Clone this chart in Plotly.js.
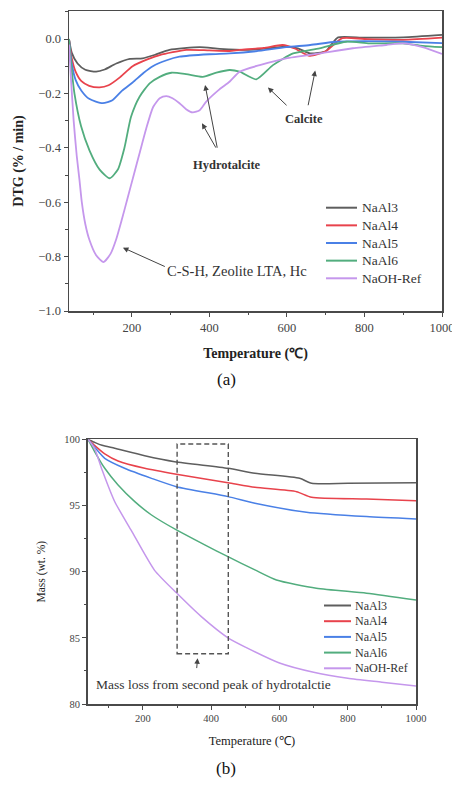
<!DOCTYPE html>
<html>
<head>
<meta charset="utf-8">
<script src="https://cdn.plot.ly/plotly-3.0.1.min.js"></script>
<style>
html,body{margin:0;padding:0;background:#fff;}
#chart{width:452px;height:796px;}
</style>
</head>
<body>
<div id="chart"></div>
<script>
// ---------- data ----------
const seriesNames = ["NaAl3", "NaAl4", "NaAl5", "NaAl6", "NaOH-Ref"];
const seriesColors = ["#5e5e5e", "#e8434c", "#4a80e6", "#52ad7e", "#c597ec"];

// (a) DTG (% / min) vs Temperature (°C)
const dtgX_NaAl3 = [38, 45, 60, 80, 108, 130, 160, 195, 228, 260, 297, 375, 427, 500, 560, 600, 630, 660, 700, 715, 732, 800, 900, 1000];
const dtgY_NaAl3 = [0, -0.05, -0.09, -0.113, -0.12, -0.112, -0.09, -0.073, -0.071, -0.058, -0.04, -0.03, -0.036, -0.04, -0.033, -0.028, -0.035, -0.053, -0.045, -0.02, 0.006, 0.005, 0.006, 0.015];
const dtgX_NaAl4 = [38, 45, 55, 70, 90, 117, 140, 170, 202, 240, 272, 341, 400, 452, 478, 540, 589, 620, 659, 700, 743, 800, 900, 1000];
const dtgY_NaAl4 = [0, -0.07, -0.12, -0.155, -0.172, -0.178, -0.17, -0.14, -0.10, -0.075, -0.059, -0.04, -0.042, -0.044, -0.04, -0.033, -0.022, -0.035, -0.062, -0.045, 0.003, 0.0, -0.003, 0.005];
const dtgX_NaAl5 = [38, 45, 55, 70, 90, 125, 150, 175, 202, 230, 254, 290, 323, 400, 452, 520, 598, 660, 727, 800, 899, 1000];
const dtgY_NaAl5 = [0, -0.09, -0.15, -0.19, -0.22, -0.236, -0.225, -0.19, -0.16, -0.125, -0.10, -0.078, -0.065, -0.056, -0.053, -0.045, -0.03, -0.022, -0.01, -0.008, -0.01, -0.015];
const dtgX_NaAl6 = [38, 44, 52, 69, 91, 117, 143, 164, 181, 198, 220, 246, 272, 302, 340, 383, 418, 452, 478, 521, 564, 616, 684, 753, 813, 899, 950, 1000];
const dtgY_NaAl6 = [0, -0.10, -0.20, -0.32, -0.41, -0.48, -0.512, -0.48, -0.40, -0.286, -0.212, -0.163, -0.139, -0.124, -0.129, -0.139, -0.124, -0.114, -0.12, -0.148, -0.096, -0.053, -0.034, -0.01, -0.016, -0.016, -0.025, -0.03];
const dtgX_NaOH = [38, 42, 50, 58, 65, 71, 80, 91, 108, 127, 145, 160, 175, 190, 205, 220, 237, 255, 272, 289, 305, 323, 340, 357, 375, 392, 426, 452, 478, 530, 598, 684, 770, 856, 899, 950, 1000];
const dtgY_NaOH = [-0.02, -0.12, -0.30, -0.43, -0.518, -0.60, -0.68, -0.74, -0.795, -0.82, -0.79, -0.735, -0.66, -0.58, -0.50, -0.42, -0.33, -0.25, -0.218, -0.21, -0.218, -0.236, -0.258, -0.27, -0.262, -0.23, -0.185, -0.157, -0.12, -0.096, -0.071, -0.053, -0.034, -0.022, -0.016, -0.03, -0.055];

// (b) Mass (wt. %) vs Temperature (°C)
const massX_NaAl3 = [39, 60, 80, 117, 205, 293, 449, 528, 659, 694, 800, 1000];
const massY_NaAl3 = [100, 99.75, 99.55, 99.32, 98.76, 98.31, 97.81, 97.43, 97.05, 96.68, 96.68, 96.72];
const massX_NaAl4 = [39, 60, 88, 127, 205, 298, 449, 528, 650, 694, 855, 1000];
const massY_NaAl4 = [100, 99.5, 98.9, 98.36, 97.81, 97.36, 96.72, 96.37, 96.04, 95.62, 95.49, 95.36];
const massX_NaAl5 = [39, 60, 88, 146, 225, 298, 449, 528, 679, 855, 1000];
const massY_NaAl5 = [100, 99.35, 98.56, 97.81, 97.05, 96.42, 95.67, 95.17, 94.49, 94.16, 93.98];
const massX_NaAl6 = [39, 60, 88, 127, 176, 225, 298, 381, 449, 528, 591, 708, 855, 1000];
const massY_NaAl6 = [100, 99.0, 97.81, 96.55, 95.29, 94.28, 93.15, 92.02, 91.13, 90.13, 89.37, 88.75, 88.37, 87.86];
const massX_NaOH = [39, 58, 80, 117, 166, 234, 298, 371, 449, 500, 600, 700, 800, 900, 1000];
const massY_NaOH = [100, 99.32, 97.7, 95.3, 93.1, 90.1, 88.4, 86.6, 85.0, 84.3, 83.1, 82.4, 81.95, 81.65, 81.35];

const dtgXs = [dtgX_NaAl3, dtgX_NaAl4, dtgX_NaAl5, dtgX_NaAl6, dtgX_NaOH];
const dtgYs = [dtgY_NaAl3, dtgY_NaAl4, dtgY_NaAl5, dtgY_NaAl6, dtgY_NaOH];
const massXs = [massX_NaAl3, massX_NaAl4, massX_NaAl5, massX_NaAl6, massX_NaOH];
const massYs = [massY_NaAl3, massY_NaAl4, massY_NaAl5, massY_NaAl6, massY_NaOH];

// ---------- layout helpers ----------
const W = 452, H = 796;
const px = v => v / W;          // pixel -> paper x
const py = v => 1 - v / H;      // pixel (from top) -> paper y
const FONT = "Liberation Serif";
const AX = "#4a4a4a";

const traces = [];
seriesNames.forEach((n, i) => {
  traces.push({x: dtgXs[i], y: dtgYs[i], xaxis: "x", yaxis: "y", mode: "lines", name: n,
    line: {color: seriesColors[i], width: 1.8, shape: "spline", smoothing: 0.6}, showlegend: false});
});
seriesNames.forEach((n, i) => {
  traces.push({x: massXs[i], y: massYs[i], xaxis: "x2", yaxis: "y2", mode: "lines", name: n,
    line: {color: seriesColors[i], width: 1.5, shape: "spline", smoothing: 0.6}, showlegend: false});
});

function axisBase(extra) {
  return Object.assign({
    showline: true, linecolor: AX, linewidth: 1.5, mirror: true,
    showgrid: false, zeroline: false,
    ticks: "outside", ticklen: 4, tickwidth: 1, tickcolor: AX,
    ticklabeloverflow: "allow",
    tickfont: {family: FONT, size: 12.5, color: "#444"}
  }, extra);
}

const shapes = [];
const annotations = [];

// custom legends
function legend(x0, x1, xt, y0, dy, fs) {
  seriesNames.forEach((n, i) => {
    const yy = y0 + i * dy;
    shapes.push({type: "line", xref: "paper", yref: "paper", x0: px(x0), x1: px(x1), y0: py(yy), y1: py(yy),
      line: {color: seriesColors[i], width: 2}});
    annotations.push({xref: "paper", yref: "paper", x: px(xt), y: py(yy), xanchor: "left", yanchor: "middle",
      text: n, showarrow: false, font: {family: FONT, size: fs, color: "#333"}});
  });
}
legend(326, 357, 360, 207.7, 17.65, 13.5);
legend(324, 351, 353, 605.5, 15.7, 12);

// arrows + labels
function arrow(xr, yr, hx, hy, tx, ty) {
  annotations.push({xref: xr, yref: yr, axref: xr, ayref: yr, x: hx, y: hy, ax: tx, ay: ty, text: "",
    showarrow: true, arrowhead: 2, arrowsize: 1.1, arrowwidth: 1, arrowcolor: "#444"});
}
function label(xr, yr, x, y, t, fs) {
  annotations.push({xref: xr, yref: yr, x: x, y: y, text: t, showarrow: false,
    font: {family: FONT, size: fs, color: "#333"}});
}
arrow("x", "y", 551, -0.178, 603, -0.249);
arrow("x", "y", 673, -0.116, 654, -0.249);
label("x", "y", 644, -0.294, "<b>Calcite</b>", 12.5);
arrow("x", "y", 389, -0.169, 421, -0.405);
arrow("x", "y", 381, -0.31, 419, -0.405);
label("x", "y", 446, -0.463, "<b>Hydrotalcite</b>", 12.5);
arrow("x", "y", 177, -0.767, 289, -0.839);
label("x", "y", 472, -0.852, "C-S-H, Zeolite LTA, Hc", 14.5);

// (b) box + arrow + label
shapes.push({type: "rect", xref: "x2", yref: "y2", x0: 300, x1: 450, y0: 83.8, y1: 99.65,
  line: {color: "#555", width: 1.4, dash: "5px,3px"}});
arrow("x2", "y2", 360, 83.45, 357, 82.6);
label("x2", "y2", 406, 81.45, "Mass loss from second peak of hydrotalctie", 13.5);

// panel captions
annotations.push({xref: "paper", yref: "paper", x: px(226), y: py(380), text: "(a)", showarrow: false,
  font: {family: FONT, size: 17, color: "#111"}});
annotations.push({xref: "paper", yref: "paper", x: px(226), y: py(780), text: "(b)", showarrow: false,
  font: {family: FONT, size: 17, color: "#111"}});

const layout = {
  width: W, height: H,
  margin: {l: 0, r: 0, t: 0, b: 0},
  paper_bgcolor: "#fff", plot_bgcolor: "#fff",
  showlegend: false,
  font: {family: FONT},
  xaxis: axisBase({domain: [px(69), px(442)], range: [38, 1000], dtick: 200, tick0: 0,
    minor: {dtick: 100, ticks: "outside", ticklen: 2.5, tickcolor: AX},
    anchor: "y",
    title: {text: "<b>Temperature (℃)</b>", font: {family: FONT, size: 14, color: "#222"}, standoff: 14}}),
  yaxis: axisBase({domain: [py(311), py(11)], range: [-1.0, 0.103], dtick: 0.2, tick0: 0, tickformat: ".1f",
    minor: {dtick: 0.1, ticks: "outside", ticklen: 2.5, tickcolor: AX},
    anchor: "x",
    title: {text: "<b>DTG (% / min)</b>", font: {family: FONT, size: 14, color: "#222"}, standoff: 11}}),
  xaxis2: axisBase({domain: [px(87.7), px(416)], range: [38, 1000], dtick: 200, tick0: 0,
    minor: {dtick: 100, ticks: "outside", ticklen: 2.5, tickcolor: AX},
    anchor: "y2", tickfont: {family: FONT, size: 10.5, color: "#444"},
    title: {text: "Temperature (℃)", font: {family: FONT, size: 12.5, color: "#222"}, standoff: 13}}),
  yaxis2: axisBase({domain: [py(704), py(439.3)], range: [80, 100], dtick: 5, tick0: 0,
    minor: {dtick: 2.5, ticks: "outside", ticklen: 2.5, tickcolor: AX},
    anchor: "x2", tickfont: {family: FONT, size: 10.5, color: "#444"},
    title: {text: "Mass (wt. %)", font: {family: FONT, size: 11.5, color: "#222"}, standoff: 16}}),
  shapes: shapes,
  annotations: annotations
};

Plotly.newPlot("chart", traces, layout, {staticPlot: true, displayModeBar: false});
</script>
</body>
</html>
